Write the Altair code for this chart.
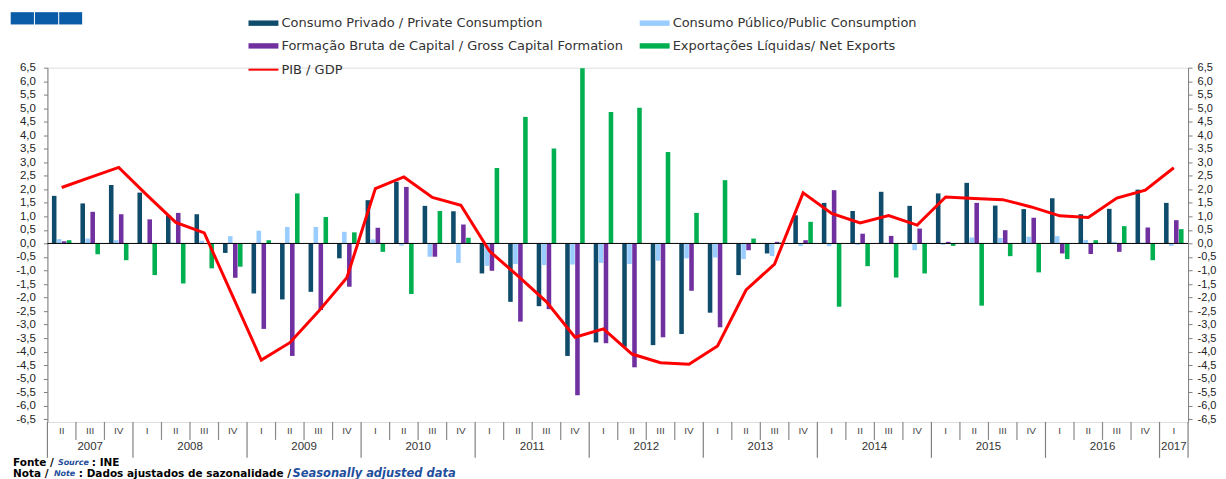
import altair as alt
import pandas as pd

# ---------------- data ----------------
quarters = ["II", "III", "IV"] + ["I", "II", "III", "IV"] * 9 + ["I"]
years = [2007] * 3 + [y for y in range(2008, 2017) for _ in range(4)] + [2017]

consumo_privado = [1.76, 1.48, 2.16, 1.88, 1.04, 1.08, -0.35, -1.85, -2.07, -1.79,
                   -0.55, 1.60, 2.28, 1.39, 1.19, -1.11, -2.16, -2.32, -4.16, -3.66,
                   -3.82, -3.76, -3.35, -2.56, -1.17, -0.37, 1.04, 1.50, 1.20, 1.91,
                   1.39, 1.85, 2.24, 1.40, 1.27, 1.67, 1.08, 1.28, 1.99, 1.50]
consumo_publico = [0.16, 0.18, 0.12, 0.03, 0.03, 0.10, 0.27, 0.47, 0.61, 0.61,
                   0.43, 0.15, -0.08, -0.49, -0.72, -0.83, -0.76, -0.80, -0.78, -0.72,
                   -0.76, -0.64, -0.55, -0.52, -0.58, -0.47, -0.10, -0.10, -0.05, 0.03,
                   -0.25, -0.05, 0.22, 0.20, 0.25, 0.27, 0.13, 0.06, 0.03, -0.09]
fbcf = [0.08, 1.17, 1.08, 0.89, 1.13, 0.0, -1.27, -3.16, -4.16, -2.46,
        -1.60, 0.58, 2.09, -0.49, 0.70, -1.01, -2.89, -2.43, -5.61, -3.69,
        -4.58, -3.47, -1.75, -3.10, -0.25, 0.06, 0.12, 1.97, 0.36, 0.28,
        0.55, 0.06, 1.50, 0.49, 0.95, -0.37, -0.39, -0.31, 0.59, 0.86]
export_liq = [0.12, -0.40, -0.62, -1.17, -1.48, -0.92, -0.86, 0.12, 1.85, 0.98,
              0.41, -0.31, -1.87, 1.20, 0.21, 2.79, 4.68, 3.51, 6.48, 4.86,
              5.02, 3.38, 1.13, 2.34, 0.18, 0.03, 0.80, -2.34, -0.84, -1.26,
              -1.11, -0.09, -2.30, -0.47, -1.07, -0.58, 0.12, 0.64, -0.62, 0.53]
pib = [2.07, 2.44, 2.81, 1.78, 0.78, 0.39, -1.96, -4.31, -3.67, -2.52,
       -1.27, 2.03, 2.46, 1.70, 1.41, -0.28, -1.20, -2.16, -3.47, -3.16,
       -4.09, -4.41, -4.47, -3.79, -1.72, -0.76, 1.87, 1.11, 0.76, 1.03,
       0.68, 1.72, 1.66, 1.62, 1.35, 1.02, 0.96, 1.68, 1.97, 2.80]

series_names = ["Consumo Privado / Private Consumption",
                "Consumo Público/Public Consumption",
                "Formação Bruta de Capital / Gross Capital Formation",
                "Exportações Líquidas/ Net Exports"]
line_name = "PIB / GDP"
series_colors = ["#0f4c6b", "#99ccff", "#7030a0", "#00b050"]
line_color = "#ff0000"

# ---------------- frames ----------------
n = len(quarters)
rows = []
for k, vals in enumerate([consumo_privado, consumo_publico, fbcf, export_liq]):
    for i, v in enumerate(vals):
        rows.append({"qi": i, "k": k, "series": series_names[k], "value": v})
bars_df = pd.DataFrame(rows)
gdp_df = pd.DataFrame({"qi": list(range(n)), "gdp": pib})
q_df = pd.DataFrame({"qi": list(range(n)), "q": quarters})

year_list = sorted(set(years))
year_df = pd.DataFrame({
    "year": [str(y) for y in year_list],
    "start": [years.index(y) for y in year_list],
    "count": [years.count(y) for y in year_list],
})
bounds = list(range(n + 1))
year_bounds = [b for b in bounds if b == 0 or b == n or years[b] != years[b - 1]]
quarter_bounds = [b for b in bounds if b not in year_bounds]

W, H = 1143, 355
FONT = "Liberation Sans"
LFONT = "DejaVu Sans"
xs = alt.Scale(domain=[0, n], nice=False, zero=False)
ys = alt.Scale(domain=[-6.6, 6.5], nice=False, zero=False)
ticks = [v / 2 for v in range(-13, 14)]
lab = "replace(replace(format(datum.value, '.1f'), '.', ','), '\u2212', '-')"


def yaxis(orient):
    return alt.Axis(orient=orient, values=ticks, labelExpr=lab, title=None, grid=False,
                    domainColor="#808080", tickColor="#808080", tickSize=4,
                    labelPadding=5 if orient == "right" else 8, labelFont=FONT,
                    labelFontSize=11 if orient == "right" else 11.5, labelColor="#222222")


bars = alt.Chart(bars_df).transform_calculate(
    xc="datum.qi + 0.5 + (datum.k - 1.5) * 0.175",
    x0="datum.xc - 0.08", x1="datum.xc + 0.08", zero="0"
).mark_rect().encode(
    x=alt.X("x0:Q", scale=xs, axis=None),
    x2="x1:Q",
    y=alt.Y("value:Q", scale=ys, axis=yaxis("left")),
    y2="zero:Q",
    color=alt.Color("series:N", scale=alt.Scale(domain=series_names, range=series_colors), legend=None),
)

zero_rule = alt.Chart(pd.DataFrame({"z": [0]})).mark_rule(color="#000000", strokeWidth=1).encode(
    y=alt.Y("z:Q", scale=ys, axis=None), x=alt.value(0), x2=alt.value(W)
)

line = alt.Chart(gdp_df).transform_calculate(xc="datum.qi + 0.5").mark_line(
    color=line_color, strokeWidth=3, strokeJoin="miter"
).encode(
    x=alt.X("xc:Q", scale=xs, axis=None),
    y=alt.Y("gdp:Q", scale=ys, axis=yaxis("right")),
)

qlabels = alt.Chart(q_df).transform_calculate(xc="datum.qi + 0.5").mark_text(
    font=FONT, fontSize=10, color="#444444", baseline="middle"
).encode(x=alt.X("xc:Q", scale=xs, axis=None), y=alt.value(364), text="q:N")

ylabels = alt.Chart(year_df).transform_calculate(xc="datum.start + datum.count / 2").mark_text(
    font=FONT, fontSize=11.5, color="#333333", baseline="middle"
).encode(x=alt.X("xc:Q", scale=xs, axis=None), y=alt.value(380), text="year:N")

qsep = alt.Chart(pd.DataFrame({"b": quarter_bounds})).mark_rule(color="#8a8a8a", strokeWidth=1.2).encode(
    x=alt.X("b:Q", scale=xs, axis=None), y=alt.value(355), y2=alt.value(373)
)
ysep = alt.Chart(pd.DataFrame({"b": year_bounds})).mark_rule(color="#808080", strokeWidth=1.2).encode(
    x=alt.X("b:Q", scale=xs, axis=None), y=alt.value(355), y2=alt.value(391)
)

# ---------------- manual legend & decorations (pixel layout) ----------------
OX, OY = 47.5, 67.3  # page position of plot origin
deco = []


def rect(x1, x2, y1, y2, color):
    return alt.Chart(pd.DataFrame({"a": [0]})).mark_rect(color=color).encode(
        x=alt.value(x1 - OX), x2=alt.value(x2 - OX), y=alt.value(y1 - OY), y2=alt.value(y2 - OY))


def text(t, x, y, size=13, color="#333333", weight="normal", style="normal", font=LFONT):
    return alt.Chart(pd.DataFrame({"t": [t]})).mark_text(
        font=font, fontSize=size, color=color, fontWeight=weight, fontStyle=style,
        align="left", baseline="middle"
    ).encode(x=alt.value(x - OX), y=alt.value(y - OY), text="t:N")


leg_pos = [(249, 22.7), (641, 22.7), (249, 45.5), (641, 45.5)]
for name, col, (lx, ly) in zip(series_names, series_colors, leg_pos):
    deco.append(rect(lx, lx + 30, ly - 2.7, ly + 2.7, col))
    deco.append(text(name, lx + 33, ly))
deco.append(rect(249, 279, 68.3, 70.3, line_color))
deco.append(text(line_name, 282, 69.3))

for bx in [(10.7, 34), (35, 58.3), (59.3, 82.3)]:
    deco.append(rect(bx[0], bx[1], 11.7, 24, "#0b5ca8"))

BLUE = "#1f4e9c"
deco.append(text("Fonte /", 13, 463, size=10.5, color="#000000", weight="bold"))
deco.append(text("Source", 58, 463, size=8, color=BLUE, weight="bold", style="italic"))
deco.append(text(": INE", 92, 463, size=10.5, color="#000000", weight="bold"))
deco.append(text("Nota /", 13, 474.5, size=10.5, color="#000000", weight="bold"))
deco.append(text("Note", 54, 474.5, size=8, color=BLUE, weight="bold", style="italic"))
deco.append(text(": Dados ajustados de sazonalidade /", 79, 474.5, size=10.5, color="#000000", weight="bold"))
deco.append(text("Seasonally adjusted data", 293, 474.5, size=11.5, color=BLUE, weight="bold", style="italic"))

chart = alt.layer(
    bars, zero_rule, line, qlabels, ylabels, qsep, ysep, *deco
).resolve_axis(y="independent").properties(
    width=W, height=H,
    padding={"left": OX - 8, "top": OY - 8, "right": 30, "bottom": 60},
    autosize=alt.AutoSizeParams(type="none"),
).configure_view(stroke=None).configure(background="white")

chart.save("out.html", embed_options={"renderer": "svg", "actions": False})
